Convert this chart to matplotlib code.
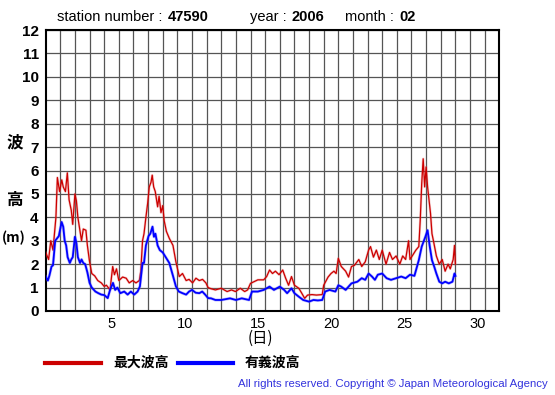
import numpy as np
import matplotlib.pyplot as plt

# days from Feb 1 00:00, and wave heights (m)
t_max = [0.0, 0.2, 0.35, 0.5, 0.7, 0.8, 0.95, 1.1, 1.2, 1.35, 1.48, 1.6, 1.75, 1.85,
         2.0, 2.1, 2.2, 2.35, 2.45, 2.57, 2.75, 2.85, 3.0, 3.15, 3.35, 3.56, 3.8,
         4.0, 4.15, 4.4, 4.58, 4.7, 4.84, 5.0, 5.26, 5.5, 5.71, 5.95, 6.17, 6.4,
         6.5, 6.62, 6.72, 6.85, 6.97, 7.08, 7.2, 7.28, 7.38, 7.49, 7.65, 7.75,
         7.88, 8.0, 8.1, 8.25, 8.45, 8.7, 8.9, 9.13, 9.35, 9.6, 9.8, 10.04, 10.27,
         10.5, 10.72, 10.95, 11.1, 11.3, 11.6, 12.0, 12.4, 12.7, 12.97, 13.3, 13.6,
         13.8, 14.0, 14.5, 14.9, 15.1, 15.3, 15.5, 15.7, 15.95, 16.2, 16.4, 16.6,
         16.8, 17.0, 17.3, 17.5, 17.7, 17.9, 18.2, 18.5, 18.9, 19.0, 19.3, 19.5,
         19.7, 19.85, 20.0, 20.2, 20.5, 20.7, 20.9, 21.1, 21.4, 21.6, 21.84, 22.07,
         22.2, 22.4, 22.6, 22.8, 23.0, 23.26, 23.5, 23.7, 23.95, 24.2, 24.4, 24.6,
         24.8, 24.9, 25.3, 25.5, 25.6, 25.7, 25.8, 25.9, 26.0, 26.1, 26.3, 26.4,
         26.5, 26.7, 26.9, 27.1, 27.3, 27.5, 27.65, 27.85, 27.94, 28.0]
h_max = [2.5, 2.2, 3.0, 2.6, 4.0, 5.7, 5.1, 5.6, 5.3, 5.1, 5.9, 4.75, 4.3, 3.7,
         5.0, 4.7, 4.0, 3.4, 3.0, 3.5, 3.45, 2.8, 2.1, 1.6, 1.5, 1.3, 1.2,
         1.05, 1.1, 0.9, 1.9, 1.55, 1.8, 1.3, 1.45, 1.4, 1.2, 1.3, 1.2, 1.3,
         1.7, 3.0, 3.3, 4.0, 4.6, 5.3, 5.5, 5.8, 5.3, 5.1, 4.45, 4.9,
         4.2, 4.5, 3.85, 3.4, 3.1, 2.8, 2.1, 1.47, 1.6, 1.3, 1.35, 1.2, 1.4,
         1.3, 1.35, 1.2, 1.0, 0.95, 0.9, 0.97, 0.83, 0.9, 0.83, 0.97, 0.83,
         0.9, 1.18, 1.33, 1.33, 1.47, 1.75, 1.6, 1.7, 1.55, 1.75, 1.4, 1.1,
         1.47, 1.1, 0.97, 0.76, 0.54, 0.68, 0.7, 0.68, 0.7, 1.1, 1.45, 1.6,
         1.7, 1.6, 2.25, 1.9, 1.7, 1.45, 1.9, 1.95, 2.2, 1.9, 2.1, 2.6,
         2.75, 2.3, 2.6, 2.2, 2.6, 2.0, 2.5, 2.2, 2.35, 2.0, 2.35, 2.2,
         3.0, 2.2, 2.6, 2.75, 3.9, 5.45, 6.5, 5.3, 6.15, 5.3, 4.17, 3.3,
         3.0, 2.35, 2.0, 2.2, 1.7, 2.0, 1.8, 2.2, 2.8, 2.0]

t_sig = [0.0, 0.15, 0.25, 0.4, 0.5, 0.65, 0.9, 1.09, 1.2, 1.3, 1.4, 1.5, 1.65, 1.75,
         1.85, 2.0, 2.1, 2.2, 2.35, 2.45, 2.57, 2.7, 2.85, 3.0, 3.15, 3.4, 3.6,
         3.8, 4.0, 4.24, 4.4, 4.6, 4.75, 4.9, 5.1, 5.37, 5.6, 5.82, 6.05, 6.28,
         6.44, 6.62, 6.72, 6.85, 7.03, 7.15, 7.3, 7.4, 7.5, 7.65, 7.8, 8.0, 8.2,
         8.45, 8.7, 8.9, 9.1, 9.35, 9.6, 9.8, 10.0, 10.25, 10.5, 10.7, 10.9, 11.1,
         11.3, 11.6, 12.0, 12.6, 13.0, 13.4, 13.9, 14.1, 14.5, 14.9, 15.3, 15.6,
         16.0, 16.3, 16.5, 16.8, 17.0, 17.3, 17.6, 18.0, 18.3, 18.6, 18.9, 19.1,
         19.4, 19.8, 20.0, 20.2, 20.5, 20.9, 21.3, 21.6, 21.84, 22.07, 22.3, 22.5,
         22.7, 23.0, 23.3, 23.6, 23.95, 24.3, 24.6, 24.9, 25.2, 25.5, 25.7, 25.95,
         26.1, 26.25, 26.4, 26.55, 26.7, 26.9, 27.1, 27.3, 27.55, 27.8, 27.94, 28.0]
h_sig = [1.47, 1.3, 1.5, 1.9, 1.95, 3.0, 3.2, 3.8, 3.6, 3.0, 2.8, 2.3, 2.05, 2.2,
         2.3, 3.17, 2.9, 2.3, 2.05, 2.2, 2.05, 2.0, 1.65, 1.2, 1.0, 0.83, 0.76,
         0.7, 0.68, 0.55, 0.9, 1.2, 0.9, 1.0, 0.76, 0.83, 0.7, 0.83, 0.7, 0.83,
         1.05, 2.05, 2.05, 2.8, 3.2, 3.3, 3.6, 3.17, 3.3, 2.8, 2.6, 2.5, 2.3,
         2.05, 1.5, 1.05, 0.83, 0.76, 0.7, 0.83, 0.9, 0.78, 0.76, 0.83, 0.7, 0.55,
         0.54, 0.47, 0.47, 0.54, 0.47, 0.54, 0.47, 0.83, 0.83, 0.9, 1.04, 0.9,
         1.04, 0.9, 0.76, 0.97, 0.76, 0.61, 0.47, 0.4, 0.47, 0.45, 0.47, 0.83,
         0.9, 0.83, 1.1, 1.04, 0.9, 1.18, 1.25, 1.4, 1.33, 1.6, 1.47, 1.33,
         1.55, 1.6, 1.4, 1.33, 1.4, 1.47, 1.4, 1.55, 1.5, 2.17, 2.75, 3.17,
         3.45, 2.75, 2.17, 1.9, 1.6, 1.25, 1.18, 1.25, 1.18, 1.25, 1.6, 1.5]

x_ticks = [5, 10, 15, 20, 25, 30]
y_ticks = list(range(0, 13))

plt.rcParams['font.family'] = ['Liberation Sans', 'DejaVu Sans']
jp = ['Noto Sans CJK JP', 'DejaVu Sans']

fig = plt.figure(figsize=(5.55, 3.95), dpi=100)
ax = fig.add_axes([0.0823, 0.2127, 0.8173, 0.7113])

# day d is centred on d, so the record starts at 0.5
xm = np.array(t_max) + 0.5
xs = np.array(t_sig) + 0.5
ax.plot(xm, h_max, color="#e06666", lw=1.8, alpha=0.35, zorder=3)
ax.plot(xm, h_max, color="#cc0000", lw=0.9, zorder=4)
ax.plot(xs, h_sig, color="#6666ff", lw=2.2, alpha=0.4, zorder=5)
ax.plot(xs, h_sig, color="#0000ff", lw=1.3, zorder=6)

ax.set_xlim(0.5, 31.5)
ax.set_ylim(0, 12)
ax.set_xticks(np.arange(1.5, 31.5, 1), minor=True)
ax.set_xticks(x_ticks)
ax.set_yticks(y_ticks)
ax.grid(which="minor", axis="x", color="#555555", lw=0.9)
ax.grid(which="major", axis="y", color="#555555", lw=0.9)
ax.tick_params(which="both", length=0)
ax.tick_params(axis="x", pad=4, labelsize=10.5)
ax.tick_params(axis="y", pad=5, labelsize=11)
for lab in ax.get_yticklabels():
    lab.set_fontweight("bold")
for s in ax.spines.values():
    s.set_linewidth(1.5)
    s.set_color("black")

W, H = 555, 395
def ft(x, y, s, **kw):
    return fig.text(x / W, 1 - y / H, s, **kw)

# header line: plain label followed directly by a bold number
r = fig.canvas.get_renderer()
def head(x, lab, num):
    t = ft(x, 17, lab, fontsize=10.5, va="center")
    bb = t.get_window_extent(renderer=r)
    ft(bb.x1 + 1, 17, num, fontsize=10.5, va="center", fontweight="bold")

head(57, "station number : ", "47590")
head(250, "year : ", "2006")
head(345, "month : ", "02")

ft(15, 142, "波", family=jp, fontsize=12, fontweight="bold", ha="center", va="center")
ft(15, 200, "高", family=jp, fontsize=12, fontweight="bold", ha="center", va="center")
ft(14, 238, "(m)", family=jp, fontsize=10, fontweight="bold", ha="center", va="center")
ft(260, 338, "(日)", family=jp, fontsize=11, ha="center", va="center")

fig.add_artist(plt.Line2D([45 / W, 101 / W], [1 - 363 / H] * 2, color="#cc0000", lw=3))
ft(113, 363, "最大波高", family=jp, fontsize=10, fontweight="bold", va="center")
fig.add_artist(plt.Line2D([178 / W, 233 / W], [1 - 363 / H] * 2, color="#0000ff", lw=3))
ft(245, 363, "有義波高", family=jp, fontsize=10, fontweight="bold", va="center")

ft(548, 384, "All rights reserved. Copyright © Japan Meteorological Agency",
   fontsize=8.2, color="#3333dd", ha="right", va="center")

fig.savefig("out.png", dpi=100)
